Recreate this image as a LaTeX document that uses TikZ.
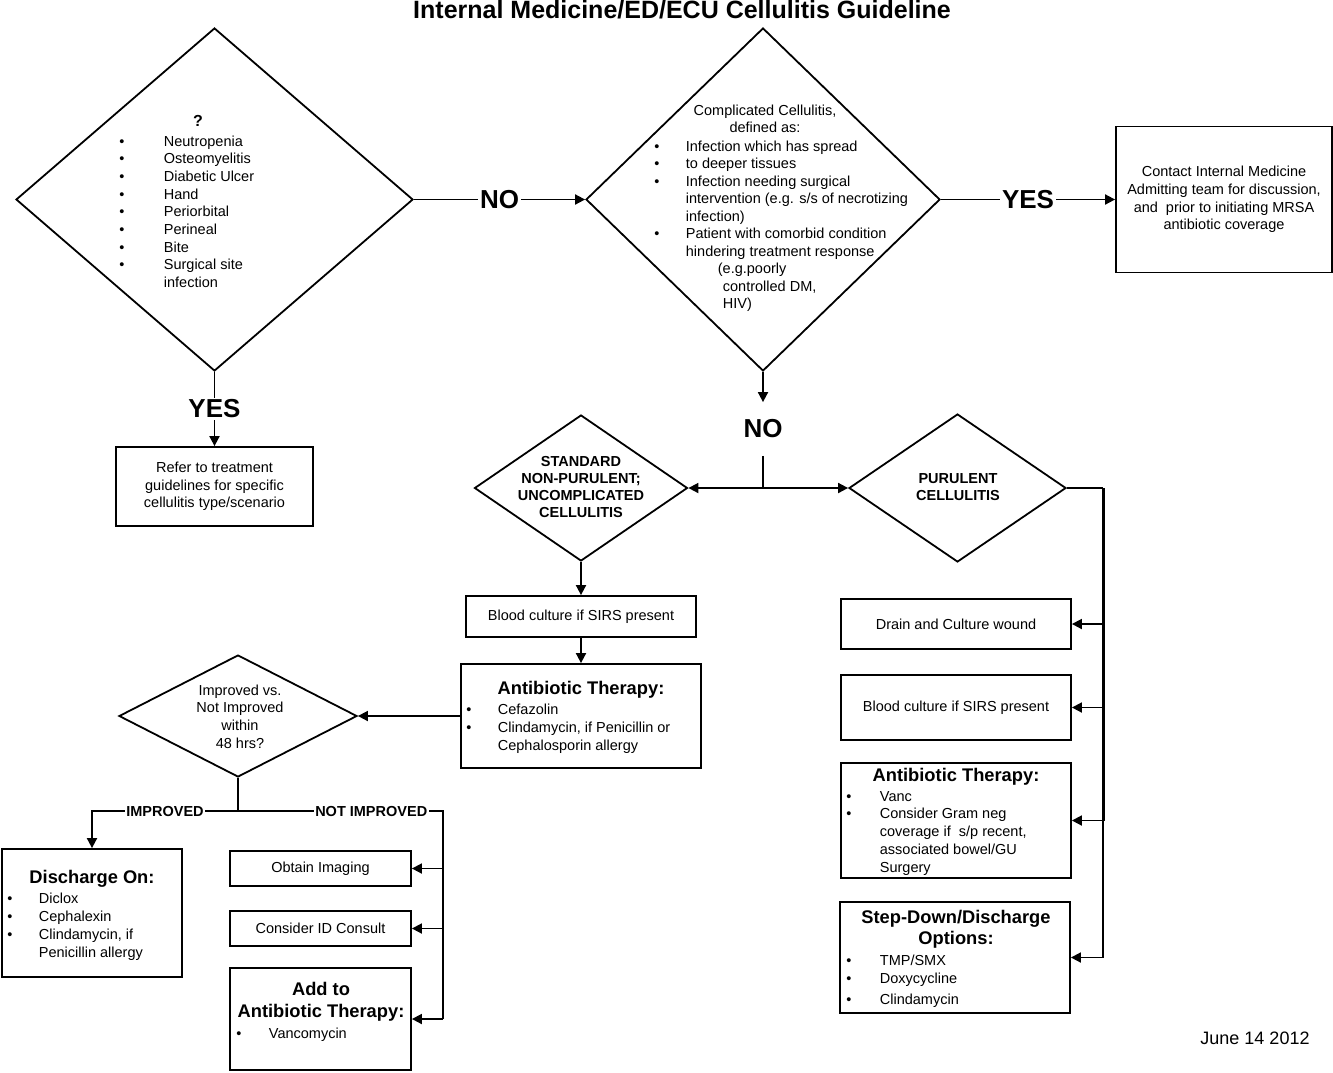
\documentclass[tikz,border=0pt]{standalone}
\usepackage{fontspec}
\setmainfont{Liberation Sans}
\usetikzlibrary{shapes.geometric,arrows.meta,calc}
\tikzset{
  dia/.style={draw,diamond,line width=1.8pt,inner sep=0pt},
  box/.style={draw,rectangle,line width=1.8pt,inner sep=0pt,align=center,font=\fontsize{14.5}{17.7}\selectfont},
  txt/.style={inner sep=0pt,font=\fontsize{14.5}{17.7}\selectfont},
  btxt/.style={inner sep=0pt,align=center,font=\bfseries\fontsize{14.5}{17.3}\selectfont},
  head/.style={inner sep=0pt,align=center,font=\bfseries\fontsize{18.3}{21.5}\selectfont},
  lbl/.style={fill=white,inner sep=2pt,font=\bfseries\fontsize{26}{28}\selectfont},
  lblsm/.style={fill=white,inner sep=1.5pt,font=\bfseries\fontsize{14.5}{15}\selectfont},
  arr/.style={-{Triangle[length=10pt,width=10pt]}},
}
\begin{document}
\begin{tikzpicture}[x=1pt,y=-1pt,line width=1.8pt]
\useasboundingbox (0,0) rectangle (1333,1072);
%title
\node[font=\bfseries\fontsize{25}{28}\selectfont,inner sep=0pt,anchor=base] (title) at (682,18) {Internal Medicine/ED/ECU Cellulitis Guideline};
%diamonds
\node[dia,minimum width=397pt,minimum height=343pt] (q1) at (214.5,199.5) {};
\node[dia,minimum width=354pt,minimum height=343pt] (q2) at (763,199.5) {};
\node[dia,minimum width=213pt,minimum height=146pt] (std) at (581,488) {};
\node[dia,minimum width=217pt,minimum height=148pt] (pur) at (957.5,488) {};
\node[dia,minimum width=238pt,minimum height=122pt] (imp) at (238,716) {};
%diamond texts
\node[txt,font=\bfseries\fontsize{16}{17.7}\selectfont] (q1q) at (198,121) {?};
\node[txt,anchor=base west] (q1l) at (118.5,146) {\begin{tabular}[t]{@{}p{44.5pt}@{}l@{}}
\textbullet & Neutropenia\\
\textbullet & Osteomyelitis\\
\textbullet & Diabetic Ulcer\\
\textbullet & Hand\\
\textbullet & Periorbital\\
\textbullet & Perineal\\
\textbullet & Bite\\
\textbullet & Surgical site\\
 & infection
\end{tabular}};
\node[txt,anchor=base] (q2h) at (765,115) {\begin{tabular}[t]{@{}c@{}}Complicated Cellulitis,\\defined as:\end{tabular}};
\node[txt,anchor=base west,font=\fontsize{14.5}{17.55}\selectfont] (q2l) at (653.5,151) {\begin{tabular}[t]{@{}p{31.5pt}@{}l@{}}
\textbullet & Infection which has spread\\
\textbullet & to deeper tissues\\
\textbullet & Infection needing surgical\\
 & intervention (e.g. s/s of necrotizing\\
 & infection)\\
\textbullet & Patient with comorbid condition\\
 & hindering treatment response\\
 & \hspace*{32pt}(e.g.poorly\\
 & \hspace*{37pt}controlled DM,\\
 & \hspace*{37pt}HIV)
\end{tabular}};
\node[btxt] (stdt) at (581,487) {STANDARD\\NON-PURULENT;\\UNCOMPLICATED\\CELLULITIS};
\node[btxt] (purt) at (958,487) {PURULENT\\CELLULITIS};
\node[txt,align=center] (impt) at (240,716.5) {Improved vs.\\Not Improved\\within\\48 hrs?};
%boxes
\node[box,minimum width=216pt,minimum height=146pt] (adm) at (1224,199.5) {Contact Internal Medicine\\Admitting team for discussion,\\and\ \ prior to initiating MRSA\\antibiotic coverage};
\node[box,minimum width=197pt,minimum height=79pt] (ref) at (214.5,486.5) {Refer to treatment\\guidelines for specific\\cellulitis type/scenario};
\node[box,minimum width=230pt,minimum height=41pt] (bc1) at (581,616.5) {Blood culture if SIRS present};
\node[box,minimum width=240pt,minimum height=104pt] (ab1) at (581,716) {};
\node[box,minimum width=180pt,minimum height=128pt] (dis) at (92,913) {};
\node[box,minimum width=181pt,minimum height=35pt] (img) at (320.5,868.5) {Obtain Imaging};
\node[box,minimum width=181pt,minimum height=35pt] (idc) at (320.5,928.5) {Consider ID Consult};
\node[box,minimum width=181pt,minimum height=102pt] (add) at (320.5,1019) {};
\node[box,minimum width=230pt,minimum height=50pt] (drn) at (956,624) {Drain and Culture wound};
\node[box,minimum width=230pt,minimum height=65pt] (bc2) at (956,707.5) {Blood culture if SIRS present};
\node[box,minimum width=230pt,minimum height=115pt] (ab2) at (956,820.5) {};
\node[box,minimum width=230pt,minimum height=111pt] (stp) at (955,957.5) {};
%box texts
\node[head] (ab1h) at (581,690) {Antibiotic Therapy:};
\node[txt,anchor=base west,font=\fontsize{14.5}{18}\selectfont] (ab1l) at (465.5,714) {\begin{tabular}[t]{@{}p{31.5pt}@{}l@{}}
\textbullet & Cefazolin\\
\textbullet & Clindamycin, if Penicillin or\\
 & Cephalosporin allergy
\end{tabular}};
\node[head] (dish) at (92,879) {Discharge On:};
\node[txt,anchor=base west,font=\fontsize{14.5}{18}\selectfont] (disl) at (6.5,903) {\begin{tabular}[t]{@{}p{31.5pt}@{}l@{}}
\textbullet & Diclox\\
\textbullet & Cephalexin\\
\textbullet & Clindamycin, if\\
 & Penicillin allergy
\end{tabular}};
\node[head] (addh) at (321,1002) {Add to\\Antibiotic Therapy:};
\node[txt,anchor=base west] (addl) at (235.5,1038) {\begin{tabular}[t]{@{}p{32.5pt}@{}l@{}}
\textbullet & Vancomycin
\end{tabular}};
\node[head] (ab2h) at (956,777) {Antibiotic Therapy:};
\node[txt,anchor=base west,font=\fontsize{14.5}{17.75}\selectfont] (ab2l) at (845.5,801) {\begin{tabular}[t]{@{}p{33.5pt}@{}l@{}}
\textbullet & Vanc\\
\textbullet & Consider Gram neg\\
 & coverage if\ \ s/p recent,\\
 & associated bowel/GU\\
 & Surgery
\end{tabular}};
\node[head] (stph) at (956,929.5) {Step-Down/Discharge\\Options:};
\node[txt,anchor=base west,font=\fontsize{14.5}{18}\selectfont] (stpl) at (845.5,965) {\begin{tabular}[t]{@{}p{33.5pt}@{}l@{}}
\textbullet & TMP/SMX\\
\textbullet & Doxycycline\\[3pt]
\textbullet & Clindamycin
\end{tabular}};
\node[txt,font=\fontsize{18}{21}\selectfont] (date) at (1255,1038) {June 14 2012};
%top arrows
\draw[arr] (q1.east) -- node[lbl] (no1) {NO} (q2.west);
\draw[arr] (q2.east) -- node[lbl] (yes2) {YES} (adm.west);
\draw[arr] (q1.south) -- node[lbl] (yes1) {YES} (ref.north);
\node[lbl,fill=none,inner sep=0pt,minimum height=52pt] (no2) at (763,429) {NO};
\draw[arr] (q2.south) -- (no2.north);
\coordinate (fork) at (763,488);
\draw (no2.south) -- (fork);
\draw[arr] (fork) -- (std.east);
\draw[arr] (fork) -- (pur.west);
%standard branch
\draw[arr] (std.south) -- (bc1.north);
\draw[arr] (bc1.south) -- (ab1.north);
\draw[arr] (ab1.west) -- (imp.east);
\coordinate (split) at (238,811);
\coordinate (nibus) at (443,811);
\draw (imp.south) -- (split);
\draw[arr] (split) -- node[lblsm] (limp) {IMPROVED} (split -| dis.north) -- (dis.north);
\draw (split) -- node[lblsm,pos=.65] (lnot) {NOT IMPROVED} (nibus) -- (nibus |- add.east);
\draw[arr] (nibus |- img.east) -- (img.east);
\draw[arr] (nibus |- idc.east) -- (idc.east);
\draw[arr] (nibus |- add.east) -- (add.east);
%purulent branch
\coordinate (pbus) at (1103,488);
\draw (pur.east) -- (pbus);
\draw[line width=3pt] (pbus) -- (pbus |- ab2.east);
\draw (pbus |- ab2.east) -- (pbus |- stp.east);
\draw[arr] (pbus |- drn.east) -- (drn.east);
\draw[arr] (pbus |- bc2.east) -- (bc2.east);
\draw[arr] (pbus |- ab2.east) -- (ab2.east);
\draw[arr] (pbus |- stp.east) -- (stp.east);
\end{tikzpicture}
\end{document}
